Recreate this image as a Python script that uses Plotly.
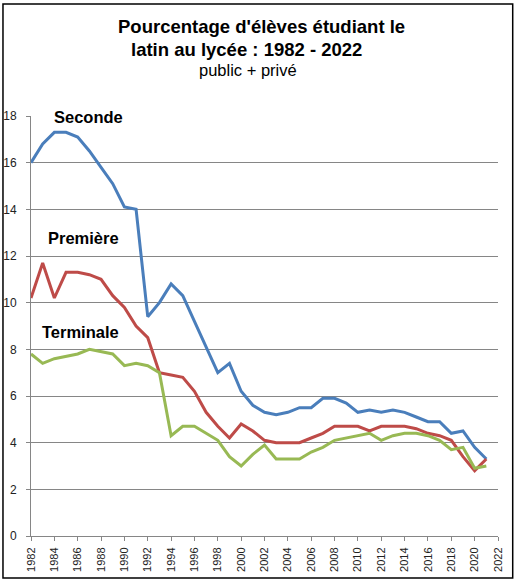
import plotly.graph_objects as go

years = list(range(1982, 2022))

seconde = [16.0, 16.8, 17.3, 17.3, 17.1, 16.5, 15.8, 15.1, 14.1, 14.0,
           9.4, 10.0, 10.8, 10.3, 9.2, 8.1, 7.0, 7.4, 6.2, 5.6,
           5.3, 5.2, 5.3, 5.5, 5.5, 5.9, 5.9, 5.7, 5.3, 5.4,
           5.3, 5.4, 5.3, 5.1, 4.9, 4.9, 4.4, 4.5, 3.8, 3.3]

premiere = [10.2, 11.7, 10.2, 11.3, 11.3, 11.2, 11.0, 10.3, 9.8, 9.0,
            8.5, 7.0, 6.9, 6.8, 6.2, 5.3, 4.7, 4.2, 4.8, 4.5,
            4.1, 4.0, 4.0, 4.0, 4.2, 4.4, 4.7, 4.7, 4.7, 4.5,
            4.7, 4.7, 4.7, 4.6, 4.4, 4.3, 4.1, 3.4, 2.8, 3.3]

terminale = [7.8, 7.4, 7.6, 7.7, 7.8, 8.0, 7.9, 7.8, 7.3, 7.4,
             7.3, 7.0, 4.3, 4.7, 4.7, 4.4, 4.1, 3.4, 3.0, 3.5,
             3.9, 3.3, 3.3, 3.3, 3.6, 3.8, 4.1, 4.2, 4.3, 4.4,
             4.1, 4.3, 4.4, 4.4, 4.3, 4.1, 3.7, 3.8, 2.9, 3.0]

series_names = ["Seconde", "Première", "Terminale"]
colors = ["#4A7EBB", "#BE4B48", "#98B954"]

fig = go.Figure()
for name, vals, col in zip(series_names, [seconde, premiere, terminale], colors):
    fig.add_trace(go.Scatter(x=years, y=vals, mode="lines", name=name,
                             line=dict(color=col, width=3)))

font_main = "Liberation Sans, Arial, sans-serif"
grid_col = "#868686"

fig.update_layout(
    width=518, height=585,
    margin=dict(l=31, r=20, t=116, b=49),
    paper_bgcolor="white", plot_bgcolor="white",
    showlegend=False,
    font=dict(family=font_main, color="#222222", size=11),
    xaxis=dict(range=[1982, 2022], dtick=2, tick0=1982, tickangle=-90,
               showgrid=False, showline=True, linecolor=grid_col, linewidth=1,
               ticks="outside", ticklen=4, tickcolor=grid_col,
               ticklabelstandoff=2, automargin=False,
               tickfont=dict(size=11), zeroline=False),
    yaxis=dict(range=[0, 18], dtick=2, tick0=0,
               showgrid=True, gridcolor=grid_col, gridwidth=1,
               showline=True, linecolor=grid_col, linewidth=1,
               ticks="outside", ticklen=4, tickcolor=grid_col,
               ticklabelstandoff=7, automargin=False,
               tickfont=dict(size=12), zeroline=False),
)

# series labels
label_pos = {"Seconde": (1986.9, 17.96), "Première": (1986.5, 12.77), "Terminale": (1986.2, 8.74)}
for name in series_names:
    x, y = label_pos[name]
    fig.add_annotation(x=x, y=y, xref="x", yref="y", text="<b>%s</b>" % name,
                       showarrow=False, bgcolor="white",
                       xanchor="center", yanchor="middle",
                       font=dict(family=font_main, size=16.5, color="black"))

# titles
titles = [
    ("<b>Pourcentage d'élèves étudiant le</b>", 0.4946, 1.214, 18.5),
    ("<b>latin au lycée : 1982 - 2022</b>", 0.4625, 1.159, 18.5),
    ("public + privé", 0.4647, 1.1095, 16.5),
]
for txt, x, y, sz in titles:
    fig.add_annotation(x=x, y=y, xref="paper", yref="paper", text=txt,
                       showarrow=False, xanchor="center", yanchor="middle",
                       font=dict(family=font_main, size=sz, color="black"))

# outer border
fig.add_shape(type="rect", xref="paper", yref="paper",
              x0=-0.06, x1=1.0315, y0=-0.1, y1=1.2667,
              line=dict(color="black", width=1.5), fillcolor="rgba(0,0,0,0)")

fig.write_html("out.html", config={"displayModeBar": False},
               post_script="document.body.style.margin='0';")
